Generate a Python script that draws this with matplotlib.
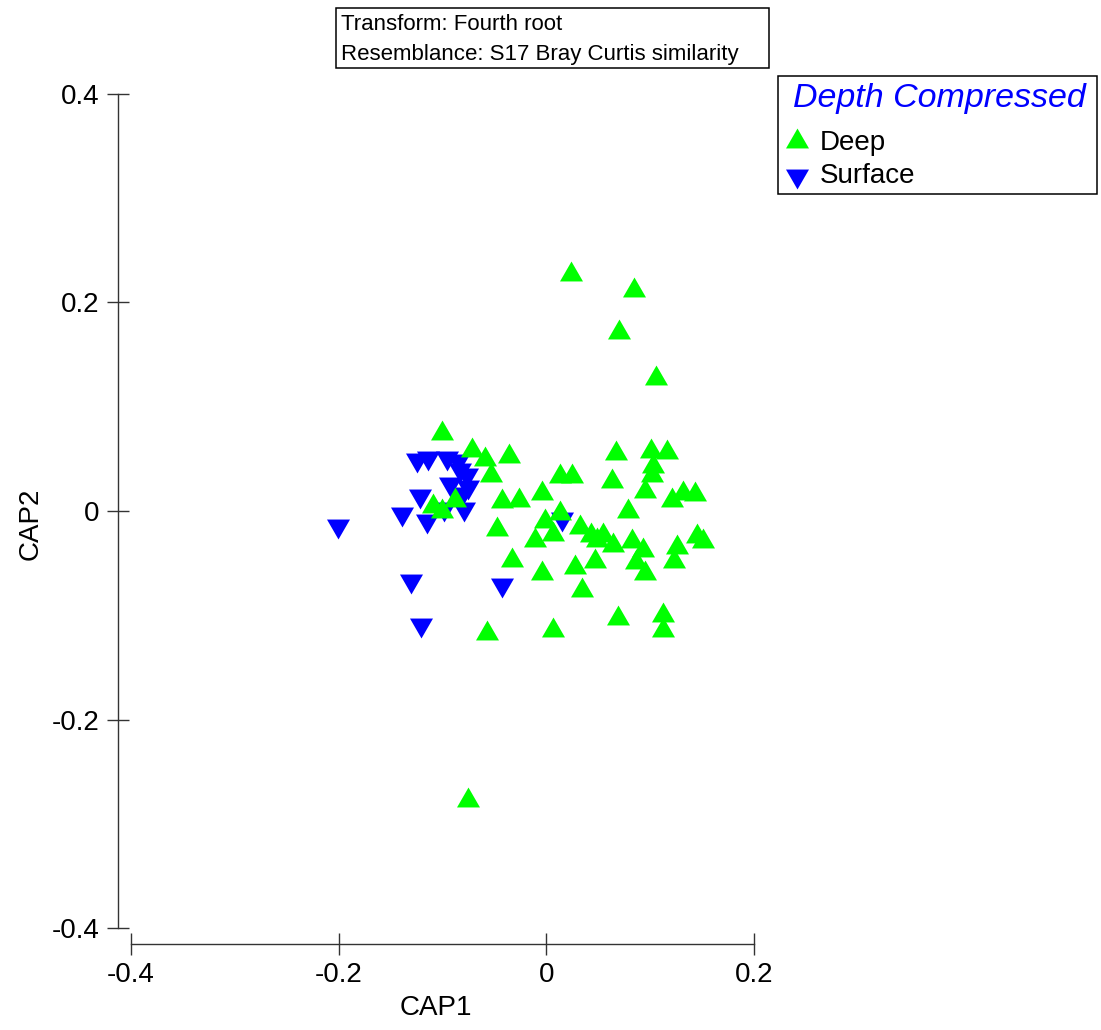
import matplotlib
matplotlib.use("Agg")
import matplotlib.pyplot as plt
from matplotlib.patches import Rectangle
from matplotlib.lines import Line2D
from matplotlib.markers import MarkerStyle
from matplotlib.ticker import FixedLocator, FuncFormatter

plt.rcParams['font.family'] = ['Liberation Sans', 'DejaVu Sans']
plt.rcParams['axes.unicode_minus'] = False

# CAP ordination scores
deep_cap1 = [0.0235, 0.0842, 0.0697, 0.1059, -0.1007, -0.0718, -0.0590, -0.0359,
             -0.0533, -0.1094, -0.0879, -0.1007, -0.0427, -0.0260, -0.0478, -0.0333,
             -0.0574, 0.0067, -0.0754, -0.0044, 0.0132, 0.0245, 0.0132, -0.0013,
             0.0067, -0.0109, -0.0044, 0.0325, 0.0426, 0.0488, 0.0549, 0.0645,
             0.0276, 0.0464, 0.0341, 0.0691, 0.1121, 0.1121, 0.0671, 0.1008,
             0.1160, 0.1031, 0.1015, 0.0630, 0.0951, 0.1208, 0.1319, 0.1432,
             0.0782, 0.0822, 0.0934, 0.1262, 0.1449, 0.1512, 0.0864, 0.1225,
             0.0951]
deep_cap2 = [0.2302, 0.2152, 0.1749, 0.1305, 0.0777, 0.0617, 0.0528, 0.0559,
             0.0374, 0.0077, 0.0134, 0.0029, 0.0122, 0.0137, -0.0147, -0.0444,
             -0.1141, -0.1110, -0.2743, 0.0201, 0.0362, 0.0365, 0.0010, -0.0070,
             -0.0192, -0.0245, -0.0566, -0.0125, -0.0199, -0.0249, -0.0201, -0.0297,
             -0.0504, -0.0451, -0.0729, -0.1000, -0.0966, -0.1113, 0.0585, 0.0601,
             0.0592, 0.0458, 0.0377, 0.0314, 0.0225, 0.0137, 0.0201, 0.0195,
             0.0029, -0.0262, -0.0342, -0.0317, -0.0208, -0.0262, -0.0465, -0.0451,
             -0.0566]
surface_cap1 = [-0.2006, -0.1306, -0.1207, -0.0424, -0.1393, -0.1146, -0.1216,
                -0.1245, -0.1139, -0.0956, -0.0850, -0.0831, -0.0764, -0.0927,
                -0.0754, -0.0812, -0.0982, -0.0793, 0.0151]
surface_cap2 = [-0.0168, -0.0697, -0.1118, -0.0741, -0.0058, -0.0129, 0.0115,
                0.0465, 0.0484, 0.0480, 0.0451, 0.0365, 0.0317, 0.0230,
                0.0201, 0.0134, -0.0005, -0.0005, -0.0110]

group_names = ["Deep", "Surface"]
group_colors = ["#00ff00", "#0000ff"]
legend_title = "Depth Compressed"
header_lines = ["Transform: Fourth root",
                "Resemblance: S17 Bray Curtis similarity"]

x_ticks = [-0.4, -0.2, 0.0, 0.2]
y_ticks = [-0.4, -0.2, 0.0, 0.2, 0.4]

W, H = 1101, 1030
PT = 72 / 100  # points per pixel at dpi 100

# equilateral triangles
up_tri = MarkerStyle([(-1, -0.866), (1, -0.866), (0, 0.866), (-1, -0.866)])
down_tri = MarkerStyle([(-1, 0.866), (1, 0.866), (0, -0.866), (-1, 0.866)])
msize = 23 * PT

fig = plt.figure(figsize=(W / 100, H / 100), dpi=100)
ax = fig.add_axes([131 / W, 1 - 928 / H, (754 - 131) / W, (928 - 94) / H])

ax.plot(surface_cap1, surface_cap2, linestyle='none', marker=down_tri,
        markersize=msize, markerfacecolor=group_colors[1], markeredgewidth=0)
ax.plot(deep_cap1, deep_cap2, linestyle='none', marker=up_tri,
        markersize=msize, markerfacecolor=group_colors[0], markeredgewidth=0)

ax.set_xlim(-0.4, 0.2)
ax.set_ylim(-0.4, 0.4)
ax.xaxis.set_major_locator(FixedLocator(x_ticks))
ax.yaxis.set_major_locator(FixedLocator(y_ticks))
fmt = FuncFormatter(lambda v, _: '0' if abs(v) < 1e-9 else f'{v:.1f}')
ax.xaxis.set_major_formatter(fmt)
ax.yaxis.set_major_formatter(fmt)

axis_color = '#333333'
for side in ('top', 'right'):
    ax.spines[side].set_visible(False)
ax.spines['left'].set_position(('outward', 13 * PT))
ax.spines['bottom'].set_position(('outward', 16 * PT))
for side in ('left', 'bottom'):
    ax.spines[side].set_linewidth(1.0)
    ax.spines[side].set_color(axis_color)
ax.tick_params(direction='inout', length=23 * PT, width=1.0, color=axis_color,
               pad=5, labelsize=20, labelcolor='black')
ax.patch.set_visible(False)

ax.set_xlabel('CAP1', fontsize=20)
ax.set_ylabel('CAP2', fontsize=20)
ax.xaxis.set_label_coords((436 - 131) / 623, -(995 - 928) / 834)
ax.yaxis.set_label_coords(-(131 - 44) / 623, (928 - 524) / 834)

# header box
fig.add_artist(Rectangle((336 / W, 1 - 68 / H), (769 - 336) / W, 60 / H,
                         transform=fig.transFigure, facecolor='white',
                         edgecolor='black', linewidth=1.1))
fig.text(341 / W, 1 - 29.7 / H, header_lines[0], fontsize=16, va='baseline', ha='left')
fig.text(341 / W, 1 - 59.7 / H, header_lines[1], fontsize=16, va='baseline', ha='left')

# legend box
fig.add_artist(Rectangle((778 / W, 1 - 194 / H), (1097 - 778) / W, (194 - 76) / H,
                         transform=fig.transFigure, facecolor='white',
                         edgecolor='black', linewidth=1.1))
fig.text(793 / W, 1 - 107 / H, legend_title, fontsize=24.5, style='italic',
         color='#0000ff', va='baseline', ha='left')
for name, color, mk, my, by in zip(group_names, group_colors, [up_tri, down_tri],
                                   [138, 178.5], [149.5, 183]):
    fig.add_artist(Line2D([796.5 / W], [1 - my / H], transform=fig.transFigure,
                          linestyle='none', marker=mk, markersize=msize,
                          markerfacecolor=color, markeredgewidth=0))
    fig.text(820 / W, 1 - by / H, name, fontsize=20, va='baseline', ha='left')

fig.savefig('out.png', dpi=100)
